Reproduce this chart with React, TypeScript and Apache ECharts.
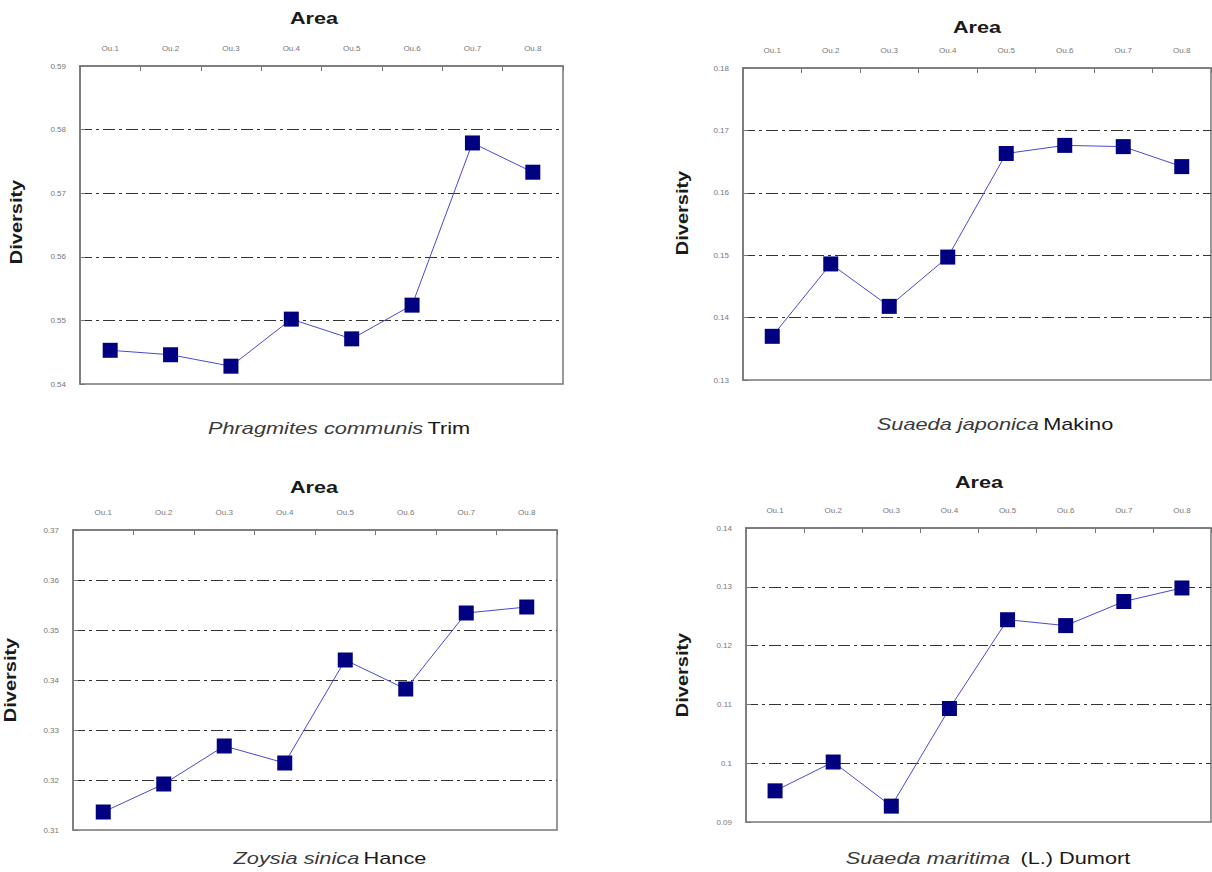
import React, { useEffect, useRef } from "react";
import * as echarts from "echarts";

const categories = ["Ou.1", "Ou.2", "Ou.3", "Ou.4", "Ou.5", "Ou.6", "Ou.7", "Ou.8"];

const phragmitesValues = [0.5453, 0.5446, 0.5428, 0.5502, 0.5471, 0.5524, 0.5779, 0.5733];
const japonicaValues = [0.137, 0.1486, 0.1418, 0.1497, 0.1663, 0.1676, 0.1674, 0.1642];
const zoysiaValues = [0.3136, 0.3192, 0.3268, 0.3234, 0.344, 0.3382, 0.3534, 0.3546];
const maritimaValues = [0.0953, 0.1002, 0.0927, 0.1093, 0.1244, 0.1234, 0.1275, 0.1298];

const yRanges = [
  { min: 0.54, max: 0.59 },
  { min: 0.13, max: 0.18 },
  { min: 0.31, max: 0.37 },
  { min: 0.09, max: 0.14 },
];

const xAxisTitle = "Area";
const yAxisTitle = "Diversity";

const captions = [
  { italic: "Phragmites communis", rest: "Trim" },
  { italic: "Suaeda japonica", rest: "Makino" },
  { italic: "Zoysia sinica", rest: "Hance" },
  { italic: "Suaeda maritima", rest: " (L.) Dumort" },
];

const seriesData = [phragmitesValues, japonicaValues, zoysiaValues, maritimaValues];

const grids = [
  { left: 80, top: 66, width: 483, height: 318 },
  { left: 743, top: 68, width: 468, height: 312 },
  { left: 73, top: 530, width: 484, height: 300 },
  { left: 746, top: 528, width: 465, height: 294 },
];

const captionPos = [
  { x: 339, y: 428 },
  { x: 995, y: 424 },
  { x: 330, y: 858 },
  { x: 988, y: 858 },
];

const areaPos = [
  { x: 314, y: 18 },
  { x: 977, y: 27 },
  { x: 314, y: 487 },
  { x: 979, y: 482 },
];

const divPos = [
  { x: 17, y: 222 },
  { x: 683, y: 213 },
  { x: 11, y: 680 },
  { x: 683, y: 675 },
];

export default function App() {
  const ref = useRef<HTMLDivElement>(null);
  useEffect(() => {
    if (!ref.current) return;
    const chart = echarts.init(ref.current, null, { renderer: "svg" });
    const font = "Liberation Sans, Arial, sans-serif";
    const graphics: any[] = [];
    captions.forEach((c, i) => {
      graphics.push({
        type: "text",
        x: captionPos[i].x,
        y: captionPos[i].y,
        scaleX: 1.28,
        style: {
          text: `{i|${c.italic}} {n|${c.rest}}`,
          align: "center",
          verticalAlign: "middle",
          rich: {
            i: { fontFamily: font, fontStyle: "italic", fontSize: 17, fill: "#3a3a3a" },
            n: { fontFamily: font, fontSize: 17, fill: "#1a1a1a" },
          },
        },
      });
      graphics.push({
        type: "text",
        x: areaPos[i].x,
        y: areaPos[i].y,
        scaleX: 1.27,
        style: {
          text: xAxisTitle,
          align: "center",
          verticalAlign: "middle",
          fontFamily: font,
          fontWeight: "bold",
          fontSize: 17,
          fill: "#1a1a1a",
        },
      });
      graphics.push({
        type: "text",
        x: divPos[i].x,
        y: divPos[i].y,
        rotation: Math.PI / 2,
        scaleX: 1.25,
        style: {
          text: yAxisTitle,
          align: "center",
          verticalAlign: "middle",
          fontFamily: font,
          fontWeight: "bold",
          fontSize: 16,
          fill: "#1a1a1a",
        },
      });
    });
    const option: any = {
      animation: false,
      backgroundColor: "#ffffff",
      grid: grids.map((g) => ({
        ...g,
        show: true,
        borderColor: "#777777",
        borderWidth: 1.5,
        backgroundColor: "transparent",
      })),
      xAxis: grids.map((_, i) => ({
        type: "category",
        gridIndex: i,
        data: categories,
        position: "top",
        boundaryGap: true,
        axisLine: { show: true, lineStyle: { color: "#777", width: 1.5 } },
        axisTick: { show: true, inside: true, length: 5, lineStyle: { color: "#777" } },
        axisLabel: { fontFamily: font, fontSize: 8, color: "#777", margin: 14 },
        splitLine: { show: false },
      })),
      yAxis: grids.map((_, i) => ({
        type: "value",
        gridIndex: i,
        min: yRanges[i].min,
        max: yRanges[i].max,
        interval: 0.01,
        axisLine: { show: true, lineStyle: { color: "#777", width: 1.5 } },
        axisTick: { show: true, inside: true, length: 5, lineStyle: { color: "#777" } },
        axisLabel: {
          fontFamily: font,
          fontSize: 8,
          color: "#777",
          margin: 14,
          formatter: (v: number) => String(Math.round(v * 100) / 100),
        },
        splitLine: {
          show: true,
          showMinLine: false,
          showMaxLine: false,
          lineStyle: { color: "#333", width: 1, type: [12, 4, 3, 4] },
        },
      })),
      series: seriesData.map((d, i) => ({
        type: "line",
        xAxisIndex: i,
        yAxisIndex: i,
        data: d,
        symbol: "rect",
        symbolSize: 15,
        itemStyle: { color: "#000080" },
        lineStyle: { color: "#4a4ad0", width: 1 },
      })),
      graphic: graphics,
    };
    chart.setOption(option);
    return () => chart.dispose();
  }, []);
  return (
    <div
      ref={ref}
      style={{ position: "fixed", left: 0, top: 0, width: 1212, height: 872 }}
    />
  );
}
